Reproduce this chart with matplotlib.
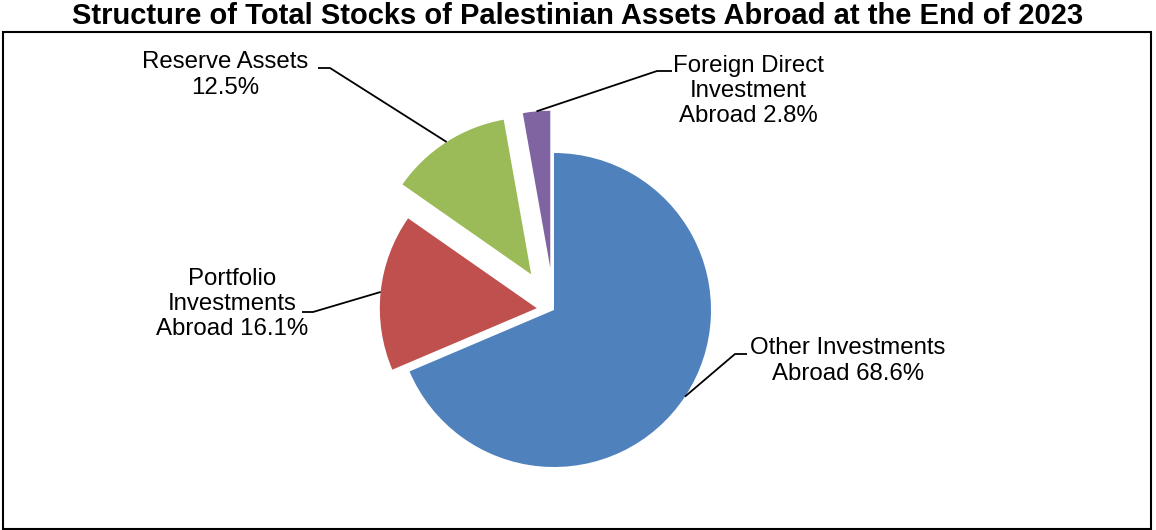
import numpy as np
import matplotlib.pyplot as plt
from matplotlib.patches import Rectangle

plt.rcParams['font.family'] = ['Liberation Sans', 'DejaVu Sans']

title = 'Structure of Total Stocks of Palestinian Assets Abroad at the End of 2023'
categories = ['Other Investments\nAbroad', 'Portfolio\nInvestments\nAbroad',
              'Reserve Assets\n', 'Foreign Direct\nInvestment\nAbroad']
shares = [68.6, 16.1, 12.5, 2.8]
colors = ['#4F81BD', '#C0504D', '#9BBB59', '#8064A2']
explode = [0.0, 0.11, 0.27, 0.27]

# label placement (pixel space, y measured from the top) and stub direction
label_pos = [(848, 361), (232, 304), (225, 75), (748, 91)]
stub_start = [(747, 354), (302, 312), (318, 68), (672, 71)]
stub_end = [(735, 354), (313, 312), (330, 68), (657, 71)]

W, H = 1156, 530


def main():
    fig = plt.figure(figsize=(W / 100, H / 100), dpi=100)
    ax = fig.add_axes([0, 0, 1, 1])

    radius = 157
    center = (554, H - 310)
    # pie offsets are in data units, so scale the fractions by the radius
    offsets = [e * radius for e in explode]
    wedges, _ = ax.pie(shares, colors=colors, explode=offsets, startangle=90,
                       counterclock=False, radius=radius, center=center,
                       frame=True, wedgeprops=dict(linewidth=0))

    ax.set_xlim(0, W)
    ax.set_ylim(0, H)
    ax.set_aspect('equal')
    ax.axis('off')

    for w, cat, val, pos, s0, s1 in zip(wedges, categories, shares,
                                         label_pos, stub_start, stub_end):
        mid = np.deg2rad((w.theta1 + w.theta2) / 2)
        cx, cy = w.center
        ax_pt = (cx + w.r * np.cos(mid), cy + w.r * np.sin(mid))
        xs = [s0[0], s1[0], ax_pt[0]]
        ys = [H - s0[1], H - s1[1], ax_pt[1]]
        ax.plot(xs, ys, color='black', lw=1.3, solid_capstyle='butt')
        if cat.endswith('\n'):
            text = f'{cat}{val}%'
        else:
            text = f'{cat} {val}%'
        ax.text(pos[0], H - pos[1], text, ha='center', va='center',
                fontsize=17.3, linespacing=1.2, color='black')

    ax.add_patch(Rectangle((3, 1), W - 8, H - 33, fill=False,
                           edgecolor='black', lw=1.5))
    ax.text(578, H - 16, title, ha='center', va='center',
            fontsize=21, fontweight='bold')

    fig.savefig('out.png', dpi=100)


if __name__ == '__main__':
    main()
